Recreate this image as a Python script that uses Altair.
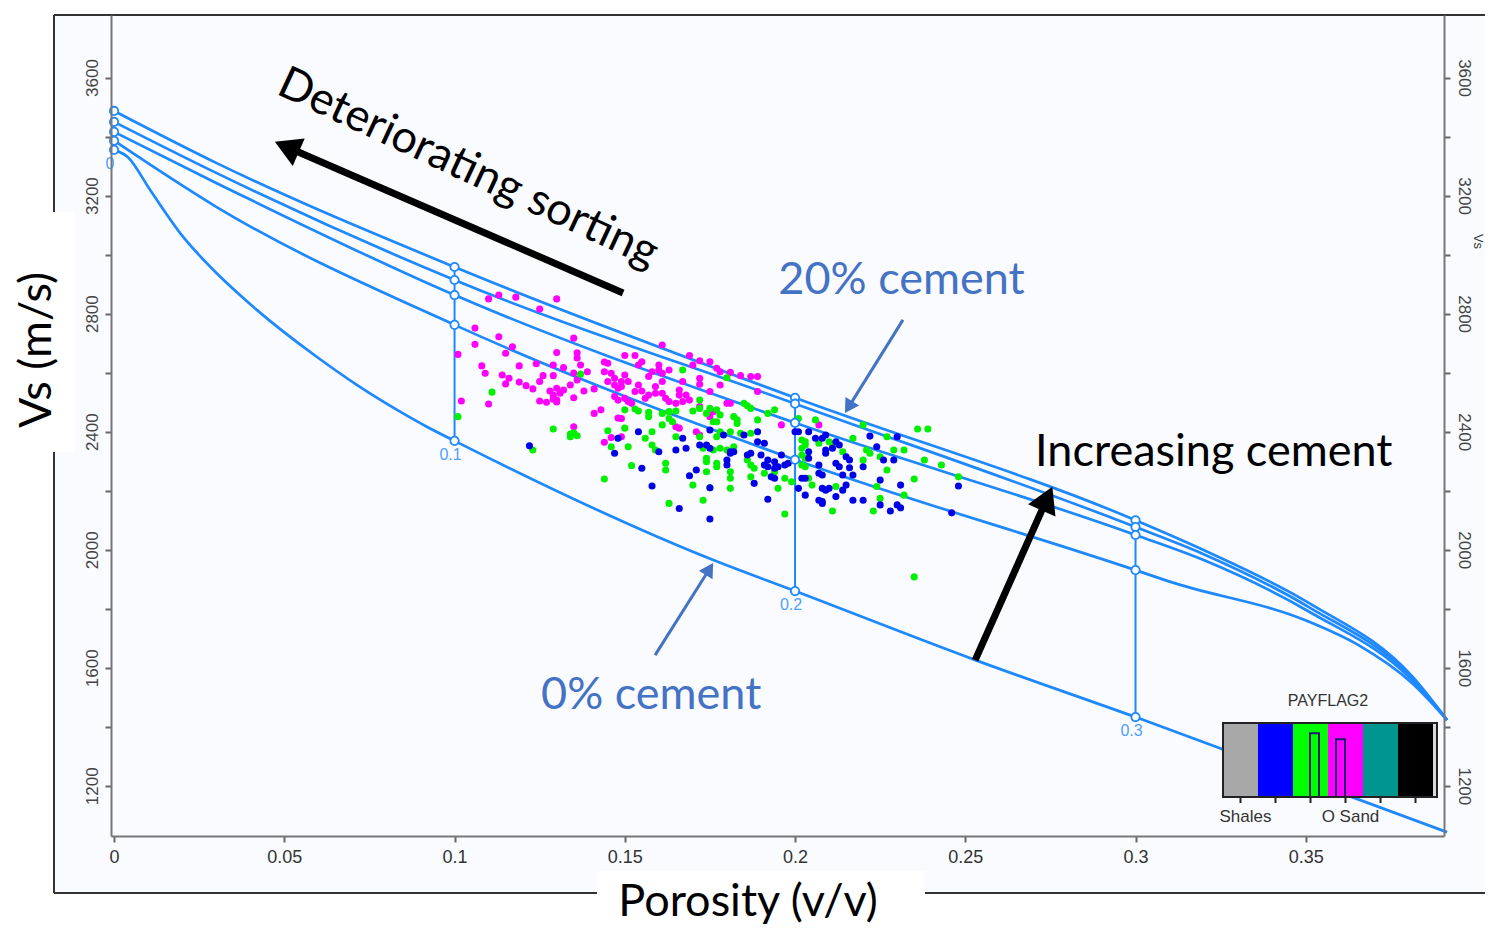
import altair as alt
import pandas as pd

# ---------------- rock-physics template curves: porosity (v/v) vs Vs (m/s) ----------------
curve_A_por = [0.0, 0.03, 0.1, 0.2, 0.3, 0.32, 0.351, 0.3815, 0.3915]
curve_A_vs = [3487, 3311, 2958, 2515, 2100, 1999, 1819, 1568, 1423]
curve_B_por = [0.0, 0.03, 0.1, 0.2, 0.3, 0.32, 0.351, 0.3815, 0.3915]
curve_B_vs = [3450, 3277, 2914, 2495, 2077, 1985, 1805, 1562, 1423]
curve_C_por = [0.0, 0.03, 0.1, 0.2, 0.3, 0.32, 0.351, 0.3815, 0.3915]
curve_C_vs = [3416, 3243, 2863, 2430, 2050, 1965, 1790, 1555, 1423]
curve_D_por = [0.0, 0.03, 0.1, 0.2, 0.3, 0.31, 0.351, 0.365, 0.3815, 0.3915]
curve_D_vs = [3386, 3162, 2762, 2305, 1931, 1892, 1756, 1680, 1545, 1423]
curve_E_por = [0.0, 0.004, 0.0106, 0.0203, 0.0303, 0.042, 0.0596, 0.0714, 0.084, 0.092,
               0.1, 0.176, 0.2, 0.253, 0.3, 0.3915]
curve_E_vs = [3355, 3331, 3219, 3060, 2935, 2812, 2653, 2558, 2468, 2416,
              2369, 1965, 1860, 1626, 1433, 1043]

node_por = [0.0, 0.1, 0.2, 0.3]
node_labels = ["0", "0.1", "0.2", "0.3"]

# ---------------- well-log samples (PAYFLAG2 classes) ----------------
mag_por = [0.110, 0.113, 0.118, 0.130, 0.125, 0.106, 0.113, 0.106, 0.117, 0.115, 0.101, 0.135, 0.130,
           0.136, 0.136, 0.137, 0.135, 0.136, 0.134, 0.108, 0.119, 0.124, 0.109, 0.114, 0.116, 0.115,
           0.119, 0.121, 0.123, 0.125, 0.126, 0.129, 0.129, 0.132, 0.128, 0.130, 0.131, 0.132, 0.129,
           0.130, 0.125, 0.127, 0.129, 0.130, 0.135, 0.138, 0.141, 0.139, 0.144, 0.145, 0.144, 0.146,
           0.147, 0.145, 0.147, 0.148, 0.147, 0.148, 0.102, 0.110, 0.141, 0.143, 0.135, 0.148, 0.144,
           0.146, 0.161, 0.150, 0.153, 0.155, 0.154, 0.160, 0.160, 0.161, 0.158, 0.163, 0.169, 0.172,
           0.175, 0.170, 0.177, 0.178, 0.181, 0.184, 0.187, 0.189, 0.172, 0.172, 0.167, 0.150, 0.149,
           0.151, 0.149, 0.157, 0.161, 0.154, 0.153, 0.155, 0.157, 0.156, 0.159, 0.159, 0.161, 0.162,
           0.163, 0.166, 0.166, 0.168, 0.169, 0.167, 0.165, 0.175, 0.178, 0.180, 0.181, 0.189, 0.150,
           0.151, 0.152, 0.149, 0.175, 0.176, 0.196, 0.172, 0.165, 0.166, 0.171, 0.207, 0.149, 0.172]
mag_vs = [2850, 2863, 2856, 2850, 2816, 2751, 2722, 2696, 2688, 2666, 2662, 2717, 2668,
          2667, 2650, 2626, 2599, 2575, 2558, 2623, 2623, 2630, 2598, 2592, 2581, 2562,
          2568, 2556, 2545, 2570, 2590, 2590, 2626, 2617, 2538, 2547, 2530, 2541, 2524,
          2507, 2504, 2500, 2510, 2501, 2515, 2538, 2545, 2603, 2636, 2632, 2603, 2598,
          2581, 2570, 2558, 2547, 2519, 2507, 2504, 2494, 2462, 2474, 2417, 2446, 2364,
          2380, 2694, 2658, 2658, 2637, 2626, 2626, 2609, 2598, 2603, 2609, 2658, 2640,
          2637, 2626, 2615, 2603, 2601, 2590, 2587, 2587, 2581, 2561, 2570, 2592, 2570,
          2570, 2553, 2587, 2570, 2558, 2536, 2538, 2524, 2513, 2553, 2530, 2530, 2513,
          2502, 2541, 2524, 2524, 2507, 2502, 2496, 2536, 2558, 2496, 2496, 2536, 2513,
          2502, 2496, 2445, 2451, 2468, 2423, 2485, 2417, 2412, 2400, 2423, 2383, 2389]

grn_por = [0.111, 0.137, 0.101, 0.129, 0.135, 0.134, 0.145, 0.123, 0.134, 0.136, 0.146, 0.144,
           0.167, 0.180, 0.172, 0.150, 0.153, 0.154, 0.157, 0.157, 0.161, 0.163, 0.165, 0.163,
           0.164, 0.161, 0.170, 0.172, 0.174, 0.175, 0.177, 0.178, 0.177, 0.176, 0.182, 0.183,
           0.183, 0.185, 0.186, 0.187, 0.189, 0.192, 0.194, 0.150, 0.158, 0.178, 0.181, 0.184,
           0.187, 0.151, 0.152, 0.158, 0.159, 0.162, 0.162, 0.170, 0.163, 0.173, 0.175, 0.174,
           0.174, 0.174, 0.177, 0.177, 0.178, 0.180, 0.182, 0.176, 0.173, 0.181, 0.181, 0.181,
           0.186, 0.187, 0.188, 0.187, 0.191, 0.194, 0.195, 0.197, 0.199, 0.197, 0.165, 0.172,
           0.177, 0.156, 0.206, 0.201, 0.220, 0.236, 0.239, 0.217, 0.227, 0.202, 0.203, 0.203,
           0.202, 0.202, 0.203, 0.202, 0.203, 0.207, 0.210, 0.211, 0.214, 0.221, 0.222, 0.220,
           0.225, 0.229, 0.232, 0.238, 0.243, 0.227, 0.235, 0.248, 0.204, 0.205, 0.212, 0.224,
           0.225, 0.232, 0.211, 0.223, 0.235]
grn_vs = [2534, 2595, 2451, 2409, 2396, 2392, 2403, 2338, 2383, 2386, 2349, 2240,
          2609, 2583, 2507, 2474, 2477, 2470, 2466, 2451, 2462, 2468, 2470, 2445,
          2434, 2423, 2470, 2479, 2462, 2479, 2474, 2457, 2434, 2434, 2451, 2440,
          2428, 2496, 2488, 2479, 2440, 2462, 2474, 2412, 2400, 2400, 2400, 2395,
          2395, 2349, 2285, 2355, 2338, 2293, 2270, 2219, 2157, 2168, 2210, 2264,
          2298, 2310, 2293, 2281, 2344, 2338, 2349, 2338, 2344, 2264, 2242, 2208,
          2304, 2287, 2276, 2247, 2259, 2264, 2208, 2242, 2230, 2121, 2383, 2383,
          2383, 2378, 2440, 2445, 2423, 2409, 2409, 2378, 2383, 2372, 2355, 2366,
          2344, 2321, 2310, 2287, 2281, 2361, 2366, 2355, 2332, 2338, 2327, 2304,
          2315, 2338, 2338, 2304, 2287, 2270, 2240, 2247, 2242, 2219, 2214, 2214,
          2174, 2185, 2131, 2131, 1908]

blu_por = [0.122, 0.147, 0.148, 0.154, 0.175, 0.189, 0.200, 0.155, 0.158, 0.165, 0.168, 0.167,
           0.160, 0.171, 0.169, 0.175, 0.166, 0.175, 0.192, 0.188, 0.180, 0.180, 0.181, 0.182,
           0.181, 0.175, 0.174, 0.172, 0.186, 0.187, 0.190, 0.192, 0.191, 0.192, 0.194, 0.194,
           0.195, 0.197, 0.196, 0.193, 0.194, 0.198, 0.191, 0.189, 0.179, 0.185, 0.204, 0.206,
           0.208, 0.209, 0.222, 0.230, 0.201, 0.212, 0.213, 0.209, 0.211, 0.209, 0.204, 0.204,
           0.215, 0.216, 0.212, 0.213, 0.216, 0.224, 0.226, 0.229, 0.220, 0.207, 0.207, 0.208,
           0.202, 0.203, 0.214, 0.217, 0.225, 0.231, 0.248, 0.208, 0.209, 0.210, 0.215, 0.214,
           0.201, 0.203, 0.212, 0.207, 0.208, 0.208, 0.217, 0.220, 0.225, 0.230, 0.231, 0.228,
           0.246]
blu_vs = [2352, 2327, 2378, 2400, 2406, 2400, 2400, 2276, 2216, 2338, 2344, 2378,
          2332, 2270, 2251, 2210, 2140, 2104, 2171, 2225, 2287, 2304, 2327, 2332,
          2332, 2344, 2355, 2355, 2321, 2327, 2321, 2304, 2287, 2281, 2298, 2276,
          2281, 2287, 2321, 2247, 2242, 2293, 2361, 2366, 2389, 2389, 2400, 2378,
          2378, 2389, 2385, 2383, 2400, 2366, 2355, 2338, 2344, 2327, 2332, 2310,
          2315, 2304, 2293, 2281, 2278, 2349, 2304, 2304, 2281, 2287, 2259, 2253,
          2242, 2242, 2253, 2253, 2236, 2219, 2216, 2208, 2202, 2208, 2219, 2202,
          2208, 2185, 2180, 2168, 2157, 2163, 2168, 2168, 2152, 2152, 2142, 2131,
          2125]

# ---------------- annotations (data coordinates) ----------------
arrow_black_tail = [(0.1495, 2870), (0.2529, 1626)]
arrow_black_head = [(0.0519, 3359, 293.5), (0.2735, 2160, 24)]
arrow_blue_tail = [(0.2317, 2779), (0.1589, 1643)]
arrow_blue_head = [(0.2161, 2490, 212), (0.1745, 1928, 32)]

legend_classes = ["Shales", "Brine sand", "Gas sand", "O Sand", "Class 5", "Class 6"]
legend_colors = ["#A8A8A8", "#0000FF", "#00FF00", "#FF00FF", "#00958F", "#000000"]
legend_labels = ["Shales", "", "", "O Sand", "", ""]
legend_hist = [0, 0, 0.86, 0.78, 0, 0]

LINE_BLUE = "#1E88FF"
TEXT_BLUE = "#4472C4"
FONT = "Lato"
W, H = 1333, 821

xs = alt.Scale(domain=[-0.0009, 0.3906], nice=False, zero=False)
ys = alt.Scale(domain=[1030, 3812], nice=False, zero=False)

x_axis = alt.Axis(values=[0, 0.05, 0.1, 0.15, 0.2, 0.25, 0.3, 0.35], format=".2~f",
                  labelFont="Liberation Sans", labelFontSize=18, labelColor="#333",
                  tickSize=6, tickWidth=2, tickColor="#666", domainColor="#777",
                  domainWidth=2, grid=False, labelPadding=6, labelFlush=False, zindex=1)
y_axis = alt.Axis(values=list(range(1200, 3601, 200)),
                  labelExpr="datum.value % 400 == 0 ? datum.value : ''",
                  labelAngle=270, labelFont="Liberation Sans", labelFontSize=17,
                  labelColor="#444", tickSize=6, tickWidth=2, tickColor="#666",
                  domainColor="#777", domainWidth=2, grid=False, labelPadding=4, zindex=1)


def X(f="por"):
    return alt.X(f"{f}:Q", scale=xs, axis=x_axis, title="")


def Y(f="vs"):
    return alt.Y(f"{f}:Q", scale=ys, axis=y_axis, title="")


one = pd.DataFrame({"k": [0]})

# ---------------- build tables ----------------
curves = {"A": (curve_A_por, curve_A_vs), "B": (curve_B_por, curve_B_vs),
          "C": (curve_C_por, curve_C_vs), "D": (curve_D_por, curve_D_vs),
          "E": (curve_E_por, curve_E_vs)}
rows = []
for name, (p, v) in curves.items():
    for i, (pp, vv) in enumerate(zip(p, v)):
        rows.append({"curve": name, "order": i, "por": pp, "vs": vv})
curve_df = pd.DataFrame(rows)

node_rows = []
for name, (p, v) in curves.items():
    for pp, vv in zip(p, v):
        if pp in node_por:
            node_rows.append({"curve": name, "por": pp, "vs": vv})
node_df = pd.DataFrame(node_rows)

vert_rows = []
lab_rows = []
for pp, lab in zip(node_por, node_labels):
    top = curve_A_vs[curve_A_por.index(pp)]
    bot = curve_E_vs[curve_E_por.index(pp)]
    if pp > 0:
        vert_rows.append({"por": pp, "vs": bot, "vs2": top})
    lab_rows.append({"por": pp, "vs": bot, "lab": lab})
vert_df = pd.DataFrame(vert_rows)
lab_df = pd.DataFrame(lab_rows)

pts = pd.concat([
    pd.DataFrame({"por": mag_por, "vs": mag_vs, "cls": "O Sand"}),
    pd.DataFrame({"por": grn_por, "vs": grn_vs, "cls": "Gas sand"}),
    pd.DataFrame({"por": blu_por, "vs": blu_vs, "cls": "Brine sand"}),
])

# ---------------- decoration: frame & background ----------------
bg = alt.Chart(one).mark_rect(fill="#F9FBFE").encode(
    x=alt.value(-57), x2=alt.value(1400), y=alt.value(0), y2=alt.value(878))
frame = [
    alt.Chart(one).mark_rule(color="#333", strokeWidth=2).encode(
        x=alt.value(-57), x2=alt.value(1400), y=alt.value(0)),
    alt.Chart(one).mark_rule(color="#333", strokeWidth=2).encode(
        x=alt.value(-57), y=alt.value(0), y2=alt.value(878)),
    alt.Chart(one).mark_rule(color="#333", strokeWidth=2).encode(
        x=alt.value(-57), x2=alt.value(1400), y=alt.value(878)),
    alt.Chart(one).mark_rect(fill="white").encode(
        x=alt.value(-96), x2=alt.value(-36), y=alt.value(197), y2=alt.value(437)),
    alt.Chart(one).mark_rect(fill="white").encode(
        x=alt.value(486), x2=alt.value(814), y=alt.value(856), y2=alt.value(930)),
]
titles = [
    alt.Chart(one).mark_text(text="Vs (m/s)", angle=270, font=FONT, fontSize=45,
                             color="black", align="center", baseline="middle").encode(
        x=alt.value(-74), y=alt.value(335)),
    alt.Chart(one).mark_text(text="Porosity (v/v)", font=FONT, fontSize=45,
                             color="black", align="center", baseline="middle").encode(
        x=alt.value(637), y=alt.value(887)),
]

# ---------------- data layers ----------------
lines = alt.Chart(curve_df).mark_line(color=LINE_BLUE, strokeWidth=2.7,
                                      interpolate="monotone").encode(
    x=X(), y=Y(), detail="curve:N", order="order:Q")
verts = alt.Chart(vert_df).mark_rule(color=LINE_BLUE, strokeWidth=2).encode(
    x=X(), y=Y(), y2="vs2:Q")
scatter = alt.Chart(pts).mark_circle(size=50, opacity=1).encode(
    x=X(), y=Y(),
    color=alt.Color("cls:N", scale=alt.Scale(domain=["O Sand", "Gas sand", "Brine sand"],
                                             range=["#FF00FF", "#00F000", "#0000E6"]),
                    legend=None))
nodes = alt.Chart(node_df).mark_point(shape="circle", size=70, filled=True, fill="white",
                                      stroke=LINE_BLUE, strokeWidth=1.8, opacity=1).encode(
    x=X(), y=Y())
node_text = alt.Chart(lab_df).mark_text(font="Liberation Sans", fontSize=16, color="#4DA0FF",
                                        dy=14, dx=-4, align="center").encode(
    x=X(), y=Y(), text="lab:N")

tail_df = pd.DataFrame({"por": [t[0] for t in arrow_black_tail], "vs": [t[1] for t in arrow_black_tail],
                        "por2": [h[0] for h in arrow_black_head], "vs2": [h[1] for h in arrow_black_head]})
black_shaft = alt.Chart(tail_df).mark_rule(color="black", strokeWidth=7).encode(
    x=X(), y=Y(), x2="por2:Q", y2="vs2:Q")
black_heads = [alt.Chart(pd.DataFrame({"por": [h[0]], "vs": [h[1]]})).mark_point(
    shape="triangle", size=900, filled=True, color="black", opacity=1, angle=h[2]).encode(
    x=X(), y=Y()) for h in arrow_black_head]

btail_df = pd.DataFrame({"por": [t[0] for t in arrow_blue_tail], "vs": [t[1] for t in arrow_blue_tail],
                         "por2": [h[0] for h in arrow_blue_head], "vs2": [h[1] for h in arrow_blue_head]})
blue_shaft = alt.Chart(btail_df).mark_rule(color=TEXT_BLUE, strokeWidth=3).encode(
    x=X(), y=Y(), x2="por2:Q", y2="vs2:Q")
blue_heads = [alt.Chart(pd.DataFrame({"por": [h[0]], "vs": [h[1]]})).mark_point(
    shape="triangle", size=260, filled=True, color=TEXT_BLUE, opacity=1, angle=h[2]).encode(
    x=X(), y=Y()) for h in arrow_blue_head]

ann_df = pd.DataFrame({
    "por": [0.104, 0.1951, 0.2705, 0.1254],
    "vs": [3294, 2914, 2331, 1507],
    "txt": ["Deteriorating sorting", "20% cement", "Increasing cement", "0% cement"],
})
ann_sort = alt.Chart(ann_df.iloc[[0]]).mark_text(font=FONT, fontSize=45, angle=25, color="black",
                                                 align="center", baseline="middle").encode(
    x=X(), y=Y(), text="txt:N")
ann_blue = alt.Chart(ann_df.iloc[[1, 3]]).mark_text(font=FONT, fontSize=45, color=TEXT_BLUE,
                                                    align="left", baseline="middle").encode(
    x=X(), y=Y(), text="txt:N")
ann_black = alt.Chart(ann_df.iloc[[2]]).mark_text(font=FONT, fontSize=45, color="black",
                                                  align="left", baseline="middle").encode(
    x=X(), y=Y(), text="txt:N")

# ---------------- PAYFLAG2 colour bar legend (pixel layout) ----------------
LEG_X, LEG_Y, SEG_W, LEG_H = 1112, 708, 35, 74
leg_df = pd.DataFrame({
    "cls": legend_classes, "col": legend_colors, "lab": legend_labels,
    "x0": [LEG_X + i * SEG_W for i in range(6)],
    "x1": [LEG_X + (i + 1) * SEG_W for i in range(6)],
    "xc": [LEG_X + (i + 0.5) * SEG_W for i in range(6)],
    "hx0": [LEG_X + i * SEG_W + 17 for i in range(6)],
    "hx1": [LEG_X + i * SEG_W + 26 for i in range(6)],
    "htop": [LEG_Y + LEG_H * (1 - h) for h in legend_hist],
})
leg_df.loc[3, "hx0"] = LEG_X + 3 * SEG_W + 8
leg_df.loc[3, "hx1"] = LEG_X + 3 * SEG_W + 17
leg_df["y0"] = LEG_Y
leg_df["y1"] = LEG_Y + LEG_H
leg_df["lx"] = leg_df["xc"] + 5
PX = dict(scale=None, axis=None)
leg_segs = alt.Chart(leg_df).mark_rect().encode(
    x=alt.X("x0:Q", **PX), x2="x1:Q", y=alt.Y("y0:Q", **PX), y2="y1:Q",
    color=alt.Color("col:N", scale=None))
leg_end = alt.Chart(one).mark_rect(fill="#D8D8D8").encode(
    x=alt.value(LEG_X + 6 * SEG_W), x2=alt.value(LEG_X + 6 * SEG_W + 4),
    y=alt.value(LEG_Y), y2=alt.value(LEG_Y + LEG_H))
leg_hist = alt.Chart(leg_df[leg_df["htop"] < LEG_Y + LEG_H]).mark_rect(
    fillOpacity=0, stroke="#1A1A6E", strokeWidth=2).encode(
    x=alt.X("hx0:Q", **PX), x2="hx1:Q", y=alt.Y("htop:Q", **PX), y2="y1:Q")
leg_box = alt.Chart(one).mark_rect(fillOpacity=0, stroke="#222", strokeWidth=2).encode(
    x=alt.value(LEG_X), x2=alt.value(LEG_X + 6 * SEG_W + 4),
    y=alt.value(LEG_Y), y2=alt.value(LEG_Y + LEG_H))
leg_ticks = alt.Chart(leg_df).mark_rule(color="#222", strokeWidth=2).encode(
    x=alt.X("xc:Q", **PX), y=alt.value(LEG_Y + LEG_H), y2=alt.value(LEG_Y + LEG_H + 6))
leg_labels = alt.Chart(leg_df[leg_df["lab"] != ""]).mark_text(
    font="Liberation Sans", fontSize=17, color="#333", baseline="middle").encode(
    x=alt.X("lx:Q", **PX), y=alt.value(LEG_Y + LEG_H + 20), text="lab:N")
leg_title = alt.Chart(one).mark_text(text="PAYFLAG2", font="Liberation Sans", fontSize=16,
                                     color="#333", baseline="middle").encode(
    x=alt.value(LEG_X + 105), y=alt.value(LEG_Y - 22))

main = alt.layer(
    bg, *frame, *titles, lines, verts, scatter, nodes, node_text,
    black_shaft, *black_heads, blue_shaft, *blue_heads,
    ann_sort, ann_blue, ann_black,
    leg_segs, leg_end, leg_hist, leg_box, leg_ticks, leg_labels, leg_title,
)

right_axis = alt.Chart(pd.DataFrame({"por": [0.0, 0.0], "vs": [1030, 3812]})).mark_point(opacity=0).encode(
    x=X(),
    y=alt.Y("vs:Q", scale=alt.Scale(domain=[1030, 3812], nice=False, zero=False), title="Vs",
            axis=alt.Axis(orient="right", values=list(range(1200, 3601, 200)),
                          labelExpr="datum.value % 400 == 0 ? datum.value : ''",
                          labelAngle=90, labelFont="Liberation Sans", labelFontSize=17,
                          labelColor="#444", tickSize=6, tickWidth=2, tickColor="#666",
                          domainColor="#777", domainWidth=2, grid=False, labelPadding=4,
                          titleFont="Liberation Sans", titleFontSize=13, titleFontWeight="normal",
                          titleColor="#333", titleAngle=90, titleAlign="center",
                          titleBaseline="middle", titleX=33, titleY=226, zindex=1)))

chart = alt.layer(main, right_axis).resolve_scale(y="independent").properties(
    width=W, height=H,
    autosize=alt.AutoSizeParams(type="none"),
    padding={"left": 103, "top": 7, "right": 41, "bottom": 91},
).configure_view(stroke=None).configure(background="white")

chart.save("out.html", embed_options={"renderer": "svg", "actions": False})
